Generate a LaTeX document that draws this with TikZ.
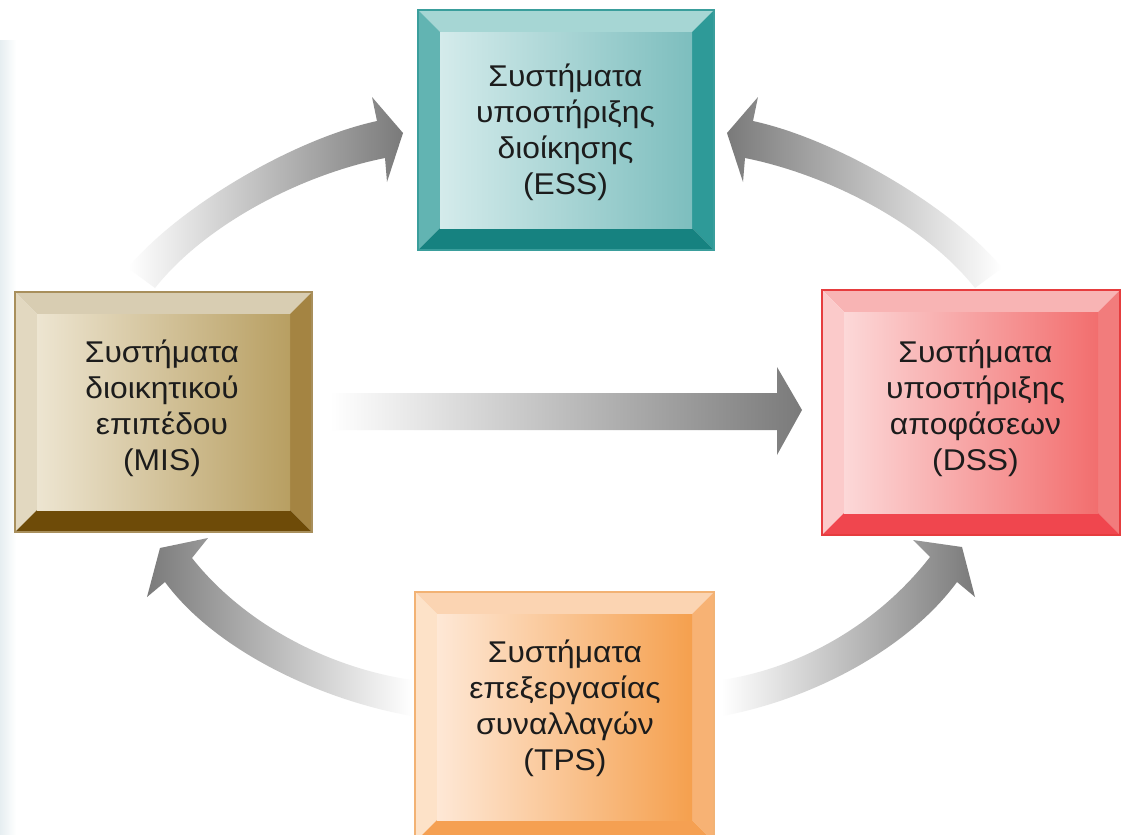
\documentclass[tikz,border=0pt]{standalone}
\usepackage{fontspec}
\setmainfont{Liberation Sans}
\newfontfamily\lblfont[FakeStretch=1.06]{Liberation Sans}
\usetikzlibrary{calc}
% ESS (teal)
\definecolor{essFL}{HTML}{D4EBEB}\definecolor{essFR}{HTML}{7DBEBE}
\definecolor{essT}{HTML}{A6D6D4}\definecolor{essL}{HTML}{62B4B2}
\definecolor{essR}{HTML}{2E9A98}\definecolor{essB}{HTML}{168280}
\definecolor{essD}{HTML}{3A9E9C}
% MIS (brown)
\definecolor{misFL}{HTML}{EDE5D1}\definecolor{misFR}{HTML}{B89F62}
\definecolor{misT}{HTML}{D8CDB2}\definecolor{misL}{HTML}{E2D8C0}
\definecolor{misR}{HTML}{A48442}\definecolor{misB}{HTML}{6E4B08}
\definecolor{misD}{HTML}{A88F5C}
% DSS (red)
\definecolor{dssFL}{HTML}{FCD8D8}\definecolor{dssFR}{HTML}{F26E6E}
\definecolor{dssT}{HTML}{F8B4B4}\definecolor{dssL}{HTML}{FBCACA}
\definecolor{dssR}{HTML}{F27C7C}\definecolor{dssB}{HTML}{F0464E}
\definecolor{dssD}{HTML}{E63C3E}
% TPS (orange)
\definecolor{tpsFL}{HTML}{FEE8D6}\definecolor{tpsFR}{HTML}{F5A04E}
\definecolor{tpsT}{HTML}{FBD4B2}\definecolor{tpsL}{HTML}{FDE2C8}
\definecolor{tpsR}{HTML}{F7B274}\definecolor{tpsB}{HTML}{F5A052}
\definecolor{tpsD}{HTML}{F2B274}
\definecolor{arrowgray}{HTML}{7A7A7A}
\definecolor{textcol}{HTML}{1C1C1C}
\definecolor{bgblue}{HTML}{E6EEF1}
\tikzset{
  boxshape/.style={rectangle, inner sep=0pt, outer sep=0pt},
  lbl/.style={align=center, text=textcol, inner sep=0pt,
    font=\lblfont\fontsize{30}{36}\selectfont},
  fadearrowR/.style={left color=white, right color=arrowgray},
  fadearrowL/.style={left color=arrowgray, right color=white}
}
\newcommand\bevbox[8]{%
  \fill[#4] (#1.north west) -- (#1.north east) -- ($(#1.north east)+(-22,22)$) -- ($(#1.north west)+(22,22)$) -- cycle;
  \fill[#5] (#1.north west) -- ($(#1.north west)+(22,22)$) -- ($(#1.south west)+(22,-22)$) -- (#1.south west) -- cycle;
  \fill[#6] (#1.north east) -- ($(#1.north east)+(-22,22)$) -- ($(#1.south east)+(-22,-22)$) -- (#1.south east) -- cycle;
  \fill[#7] (#1.south west) -- ($(#1.south west)+(22,-22)$) -- ($(#1.south east)+(-22,-22)$) -- (#1.south east) -- cycle;
  \shade[left color=#2, right color=#3] ($(#1.north west)+(22,22)$) rectangle ($(#1.south east)+(-22,-22)$);
  \draw[#8, line width=1.5pt] (#1.north west) rectangle (#1.south east);
}
\begin{document}
\begin{tikzpicture}[x=1pt,y=-1pt]
\useasboundingbox (0,0) rectangle (1122,835);
\clip (0,0) rectangle (1122,835);
\fill[white] (0,0) rectangle (1122,835);
\shade[left color=bgblue, right color=white] (0,40) rectangle (16,835);

% arrows
\shade[fadearrowR] (128,268) .. controls (175,210) and (290,140) .. (377,121)
  -- (372,97) -- (403,133) -- (387,182) -- (385,158)
  .. controls (300,175) and (205,225) .. (155,288) -- cycle;
\shade[fadearrowL] (1002,268) .. controls (955,210) and (840,140) .. (753,121)
  -- (758,97) -- (727,133) -- (743,182) -- (745,158)
  .. controls (830,175) and (925,225) .. (975,288) -- cycle;
\shade[fadearrowL] (165,582) .. controls (215,650) and (320,700) .. (412,716)
  -- (412,680) .. controls (330,668) and (245,625) .. (192,558)
  -- (208,538) -- (160,548) -- (147,597) -- cycle;
\shade[fadearrowR] (957,582) .. controls (907,650) and (810,700) .. (722,716)
  -- (722,680) .. controls (800,668) and (877,625) .. (930,557)
  -- (913,540) -- (962,547) -- (975,597) -- cycle;
\shade[fadearrowR] (330,393) -- (777,393) -- (777,367) -- (802,410)
  -- (777,455) -- (777,430) -- (330,430) -- cycle;

% boxes
\node[boxshape, minimum width=296, minimum height=240] (ess) at (566,130) {};
\node[boxshape, minimum width=297, minimum height=240] (mis) at (163.5,412) {};
\node[boxshape, minimum width=298, minimum height=245] (dss) at (971,412.5) {};
\node[boxshape, minimum width=299, minimum height=250] (tps) at (564.5,717) {};
\bevbox{ess}{essFL}{essFR}{essT}{essL}{essR}{essB}{essD}
\bevbox{mis}{misFL}{misFR}{misT}{misL}{misR}{misB}{misD}
\bevbox{dss}{dssFL}{dssFR}{dssT}{dssL}{dssR}{dssB}{dssD}
\bevbox{tps}{tpsFL}{tpsFR}{tpsT}{tpsL}{tpsR}{tpsB}{tpsD}

\node[lbl] (esst) at (565.5,132) {Συστήματα\\υποστήριξης\\διοίκησης\\(ESS)};
\node[lbl] (mist) at (162,408) {Συστήματα\\διοικητικού\\επιπέδου\\(MIS)};
\node[lbl] (dsst) at (975.5,408) {Συστήματα\\υποστήριξης\\αποφάσεων\\(DSS)};
\node[lbl] (tpst) at (565,708) {Συστήματα\\επεξεργασίας\\συναλλαγών\\(TPS)};
\end{tikzpicture}
\end{document}
